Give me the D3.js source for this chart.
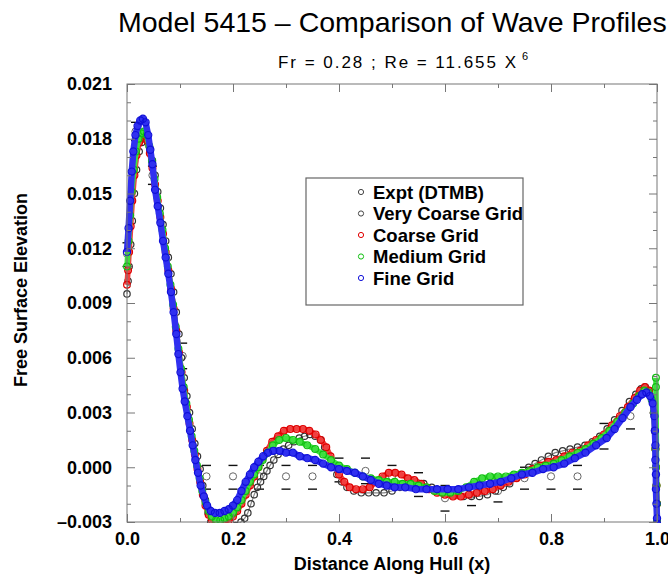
<html>
<head>
<script src="https://d3js.org/d3.v7.min.js"></script>
<title>Model 5415 - Wave Profiles</title>
<style>
  body { margin: 0; background: #fff; }
  text { font-family: "Liberation Sans", Arial, Helvetica, sans-serif; }
</style>
</head>
<body>
<div class="viz"></div>
<script type="text/javascript">
var xTicks = [0, 0.2, 0.4, 0.6, 0.8, 1.0];
var xTickLabels = ["0.0", "0.2", "0.4", "0.6", "0.8", "1.0"];
var xMinorTicks = [0.1, 0.3, 0.5, 0.7, 0.9];
var yTicks = [-0.003, 0, 0.003, 0.006, 0.009, 0.012, 0.015, 0.018, 0.021];
var yTickLabels = ["\u20130.003", "0.000", "0.003", "0.006", "0.009", "0.012", "0.015", "0.018", "0.021"];
var yMinorTicks = [-0.002, -0.001, 0.001, 0.002, 0.004, 0.005, 0.007, 0.008, 0.010, 0.011,
                   0.013, 0.014, 0.016, 0.017, 0.019, 0.020];

var seriesNames = ["Expt (DTMB)", "Very Coarse Grid", "Coarse Grid", "Medium Grid", "Fine Grid"];

// experiment: x, value, lower and upper bar
var exptX  = [0.000, 0.016, 0.048, 0.105, 0.15, 0.20, 0.25, 0.30, 0.35, 0.40, 0.45, 0.50, 0.55,
              0.60, 0.65, 0.70, 0.75, 0.80, 0.85, 0.90, 0.95];
var exptY  = [0.0117, 0.0184, 0.0160, 0.0061, -0.0005, -0.0005, -0.0005, -0.0005, -0.0005, -0.0001, -0.0002, -0.0005, -0.0009,
              -0.0017, -0.0015, -0.0013, -0.0006, -0.0005, -0.0005, 0.0017, 0.0028];
var exptLo = [0.0110, 0.0179, 0.0155, 0.0054, -0.0012, -0.0012, -0.0012, -0.0012, -0.0012, -0.0008, -0.0009, -0.0011, -0.0016,
              -0.0024, -0.0021, -0.0019, -0.0012, -0.0012, -0.0012, 0.0010, 0.0021];
var exptHi = [0.0123, 0.0189, 0.0165, 0.0068, 0.0001, 0.0001, 0.0001, 0.0001, 0.0001, 0.0005, 0.0005, 0.0001, -0.0003,
              -0.0010, -0.0009, -0.0007, 0.0000, 0.0001, 0.0001, 0.0024, 0.0035];

var veryCoarseGrid = [[0.000,0.0095],[0.002,0.0102],[0.004,0.0110],[0.007,0.0122],[0.010,0.0135],[0.014,0.0150],
  [0.018,0.0163],[0.023,0.0173],[0.028,0.0178],[0.033,0.0180],[0.038,0.0179],[0.043,0.0175],[0.048,0.0168],
  [0.053,0.0160],[0.058,0.0151],[0.063,0.0142],[0.068,0.0133],[0.073,0.0124],[0.078,0.0115],[0.083,0.0106],
  [0.088,0.0096],[0.093,0.0085],[0.098,0.0073],[0.103,0.0060],[0.108,0.0049],[0.113,0.0039],[0.118,0.0030],
  [0.123,0.0021],[0.128,0.0013],[0.133,0.0006],[0.138,-0.0001],[0.143,-0.0010],[0.148,-0.0018],[0.153,-0.0025],
  [0.158,-0.0030],[0.165,-0.0033],[0.175,-0.0035],[0.185,-0.0035],[0.195,-0.0034],[0.205,-0.0032],[0.215,-0.0030],
  [0.222,-0.0028],[0.228,-0.0025],[0.234,-0.0020],[0.240,-0.0015],[0.246,-0.0011],[0.252,-0.0008],[0.258,-0.0005],
  [0.264,-0.0002],[0.270,0.0001],[0.277,0.0004],[0.285,0.0007],[0.295,0.0010],[0.305,0.0012],[0.315,0.0014],
  [0.325,0.0016],[0.335,0.0017],[0.345,0.0018],[0.355,0.0017],[0.365,0.0015],[0.373,0.0011],[0.380,0.0006],
  [0.388,0.0001],[0.396,-0.0004],[0.405,-0.0008],[0.415,-0.0011],[0.428,-0.0013],[0.442,-0.0014],[0.456,-0.0014],
  [0.470,-0.0014],[0.485,-0.0014],[0.500,-0.0013],[0.515,-0.0011],[0.530,-0.0009],[0.545,-0.0008],[0.560,-0.0009],
  [0.575,-0.0011],[0.590,-0.0013],[0.605,-0.0014],[0.620,-0.0015],[0.635,-0.0016],[0.650,-0.0016],[0.665,-0.0016],
  [0.680,-0.0015],[0.695,-0.0013],[0.710,-0.0011],[0.722,-0.0009],[0.734,-0.0006],[0.746,-0.0003],[0.758,0.0000],
  [0.770,0.0002],[0.782,0.0004],[0.795,0.0006],[0.808,0.0008],[0.822,0.0009],[0.836,0.0010],[0.850,0.0011],
  [0.864,0.0012],[0.878,0.0014],[0.892,0.0017],[0.906,0.0021],[0.920,0.0026],[0.934,0.0031],[0.948,0.0036],
  [0.960,0.0040],[0.970,0.0043],[0.978,0.0044],[0.985,0.0042],[0.990,0.0038],[0.994,0.0030],[0.996,0.0020],
  [0.997,0.0010],[0.998,0.0000],[0.999,-0.0010],[1.000,-0.0020],[1.000,-0.0030]];

var coarseGrid = [[0.000,0.0100],[0.002,0.0108],[0.004,0.0118],[0.007,0.0132],[0.010,0.0146],[0.014,0.0160],
  [0.018,0.0171],[0.023,0.0178],[0.028,0.0181],[0.033,0.0182],[0.038,0.0179],[0.043,0.0172],[0.048,0.0164],
  [0.053,0.0155],[0.058,0.0146],[0.063,0.0137],[0.068,0.0128],[0.073,0.0118],[0.078,0.0108],[0.083,0.0098],
  [0.088,0.0087],[0.093,0.0075],[0.098,0.0063],[0.103,0.0052],[0.108,0.0042],[0.113,0.0033],[0.118,0.0024],
  [0.123,0.0015],[0.128,0.0007],[0.133,-0.0001],[0.138,-0.0008],[0.143,-0.0015],[0.148,-0.0021],[0.154,-0.0026],
  [0.160,-0.0029],[0.168,-0.0031],[0.176,-0.0031],[0.184,-0.0030],[0.192,-0.0029],[0.200,-0.0027],[0.208,-0.0024],
  [0.216,-0.0020],[0.224,-0.0015],[0.232,-0.0010],[0.240,-0.0005],[0.248,0.0000],[0.256,0.0005],[0.264,0.0009],
  [0.274,0.0014],[0.285,0.0017],[0.296,0.0020],[0.308,0.0021],[0.320,0.0021],[0.332,0.0021],[0.344,0.0020],
  [0.356,0.0018],[0.366,0.0015],[0.376,0.0011],[0.384,0.0006],[0.392,0.0001],[0.400,-0.0004],[0.410,-0.0008],
  [0.420,-0.0011],[0.432,-0.0012],[0.445,-0.0012],[0.458,-0.0011],[0.470,-0.0008],[0.482,-0.0005],[0.494,-0.0003],
  [0.506,-0.0003],[0.518,-0.0004],[0.530,-0.0006],[0.542,-0.0007],[0.555,-0.0009],[0.570,-0.0012],[0.585,-0.0014],
  [0.600,-0.0015],[0.615,-0.0016],[0.630,-0.0016],[0.645,-0.0015],[0.660,-0.0014],[0.675,-0.0013],[0.690,-0.0012],
  [0.705,-0.0010],[0.720,-0.0008],[0.735,-0.0006],[0.750,-0.0004],[0.765,-0.0001],[0.780,0.0001],[0.795,0.0003],
  [0.810,0.0004],[0.825,0.0006],[0.840,0.0008],[0.855,0.0009],[0.870,0.0012],[0.885,0.0015],[0.900,0.0018],
  [0.915,0.0023],[0.930,0.0028],[0.945,0.0033],[0.958,0.0038],[0.968,0.0042],[0.977,0.0044],[0.985,0.0042],
  [0.990,0.0038],[0.994,0.0030],[0.996,0.0020],[0.997,0.0010],[0.998,0.0000],[0.999,-0.0010],[1.000,-0.0020],
  [1.000,-0.0030]];

var mediumGrid = [[0.000,0.0110],[0.003,0.0124],[0.006,0.0138],[0.009,0.0151],[0.013,0.0163],[0.017,0.0173],
  [0.022,0.0180],[0.027,0.0183],[0.032,0.0184],[0.037,0.0182],[0.042,0.0176],[0.047,0.0168],[0.052,0.0158],
  [0.057,0.0148],[0.062,0.0139],[0.067,0.0130],[0.072,0.0120],[0.077,0.0110],[0.082,0.0100],[0.087,0.0089],
  [0.092,0.0077],[0.097,0.0065],[0.102,0.0054],[0.107,0.0044],[0.112,0.0035],[0.117,0.0026],[0.122,0.0017],
  [0.127,0.0009],[0.132,0.0001],[0.137,-0.0006],[0.142,-0.0013],[0.148,-0.0019],[0.154,-0.0024],[0.160,-0.0027],
  [0.168,-0.0029],[0.176,-0.0029],[0.184,-0.0028],[0.192,-0.0027],[0.200,-0.0025],[0.208,-0.0022],[0.216,-0.0018],
  [0.224,-0.0013],[0.232,-0.0008],[0.240,-0.0004],[0.248,0.0000],[0.256,0.0004],[0.265,0.0008],[0.275,0.0012],
  [0.287,0.0015],[0.300,0.0016],[0.313,0.0015],[0.326,0.0014],[0.340,0.0012],[0.355,0.0010],[0.370,0.0007],
  [0.385,0.0004],[0.400,0.0001],[0.415,-0.0001],[0.430,-0.0003],[0.445,-0.0005],[0.460,-0.0006],[0.475,-0.0007],
  [0.490,-0.0008],[0.505,-0.0008],[0.520,-0.0009],[0.535,-0.0009],[0.550,-0.0010],[0.565,-0.0011],[0.580,-0.0013],
  [0.595,-0.0014],[0.610,-0.0014],[0.625,-0.0013],[0.640,-0.0011],[0.655,-0.0008],[0.670,-0.0006],[0.685,-0.0005],
  [0.700,-0.0005],[0.715,-0.0005],[0.730,-0.0004],[0.745,-0.0003],[0.760,-0.0002],[0.775,0.0000],[0.790,0.0001],
  [0.805,0.0002],[0.820,0.0004],[0.835,0.0006],[0.850,0.0008],[0.865,0.0010],[0.880,0.0013],[0.895,0.0016],
  [0.910,0.0020],[0.925,0.0025],[0.940,0.0030],[0.955,0.0035],[0.966,0.0039],[0.976,0.0042],[0.984,0.0041],
  [0.990,0.0037],[0.994,0.0030],[0.996,0.0020],[0.997,0.0010],[0.998,0.0000],[0.999,-0.0010],[1.000,-0.0020],
  [1.000,-0.0029],[0.998,0.0044],[0.998,0.0049]];

var fineGrid = [[0.000,0.0118],[0.003,0.0131],[0.006,0.0146],[0.009,0.0162],[0.012,0.0173],[0.016,0.0182],
  [0.020,0.0187],[0.025,0.0190],[0.030,0.0191],[0.035,0.0189],[0.040,0.0182],[0.044,0.0174],[0.048,0.0166],
  [0.053,0.0152],[0.058,0.0143],[0.063,0.0134],[0.068,0.0124],[0.073,0.0115],[0.078,0.0106],[0.083,0.0096],
  [0.088,0.0085],[0.093,0.0073],[0.097,0.0062],[0.101,0.0052],[0.105,0.0043],[0.109,0.0036],[0.114,0.0028],
  [0.119,0.0020],[0.124,0.0012],[0.129,0.0004],[0.134,-0.0003],[0.139,-0.0010],[0.145,-0.0016],[0.151,-0.0021],
  [0.158,-0.0024],[0.166,-0.0025],[0.175,-0.0025],[0.184,-0.0024],[0.192,-0.0023],[0.200,-0.0021],[0.208,-0.0018],
  [0.216,-0.0013],[0.224,-0.0008],[0.232,-0.0004],[0.240,0.0000],[0.248,0.0003],[0.257,0.0006],[0.266,0.0008],
  [0.276,0.0009],[0.288,0.0009],[0.300,0.0008],[0.313,0.0008],[0.326,0.0006],[0.340,0.0005],[0.355,0.0004],
  [0.370,0.0002],[0.385,0.0000],[0.400,-0.0001],[0.415,-0.0002],[0.430,-0.0003],[0.445,-0.0005],[0.460,-0.0007],
  [0.475,-0.0009],[0.490,-0.0010],[0.505,-0.0011],[0.525,-0.0011],[0.545,-0.0012],[0.565,-0.0012],[0.585,-0.0012],
  [0.605,-0.0012],[0.625,-0.0012],[0.645,-0.0011],[0.665,-0.0010],[0.685,-0.0009],[0.705,-0.0008],[0.725,-0.0006],
  [0.745,-0.0004],[0.765,-0.0003],[0.785,-0.0001],[0.805,0.0000],[0.825,0.0002],[0.845,0.0005],[0.865,0.0008],
  [0.885,0.0012],[0.905,0.0016],[0.920,0.0021],[0.935,0.0027],[0.950,0.0033],[0.962,0.0037],[0.972,0.0040],
  [0.980,0.0041],[0.987,0.0039],[0.992,0.0035],[0.995,0.0028],[0.996,0.0020],[0.997,0.0012],[0.997,0.0004],
  [0.998,-0.0004],[0.998,-0.0012],[0.999,-0.0020],[1.000,-0.0028],[1.000,-0.0031]];

var vizWidth = 668;
var vizHeight = 575;

var x = d3.scaleLinear().domain([0, 1]).range([127, 657]);
var y = d3.scaleLinear().domain([-0.003, 0.021]).range([522, 84]);

var svg = d3.select("div.viz")
            .append("svg")
            .attr("width", vizWidth)
            .attr("height", vizHeight);

svg.append("rect").attr("width", vizWidth).attr("height", vizHeight).attr("fill", "#fff");

// titles
svg.append("text")
   .attr("x", 118).attr("y", 32)
   .attr("font-size", 28.5)
   .text("Model 5415 \u2013 Comparison of Wave Profiles");

svg.append("text")
   .attr("x", 278).attr("y", 68)
   .attr("font-size", 17)
   .attr("textLength", 238)
   .attr("lengthAdjust", "spacing")
   .text("Fr = 0.28 ; Re = 11.655 X");
svg.append("text")
   .attr("x", 522).attr("y", 60)
   .attr("font-size", 11)
   .text("6");

// clip for the data
svg.append("clipPath").attr("id", "plotClip")
   .append("rect")
   .attr("x", x(0) - 6).attr("y", y(0.021))
   .attr("width", x(1) - x(0) + 12).attr("height", y(-0.003) - y(0.021) + 1);

var plot = svg.append("g").attr("clip-path", "url(#plotClip)");

// experiment: dashes for the bars and open circles
var expt = exptX.map(function(d, i) { return {x: d, y: exptY[i], lo: exptLo[i], hi: exptHi[i]}; });

plot.selectAll("circle.expt")
    .data(expt)
    .enter()
    .append("circle")
    .attr("class", "expt")
    .attr("cx", function(d) { return x(d.x); })
    .attr("cy", function(d) { return y(d.y); })
    .attr("r", 3.6)
    .attr("fill", "none")
    .attr("stroke", "#666")
    .attr("stroke-width", 1);

plot.selectAll("line.hi")
    .data(expt)
    .enter()
    .append("line")
    .attr("x1", function(d) { return x(d.x) - 4.5; })
    .attr("x2", function(d) { return x(d.x) + 4.5; })
    .attr("y1", function(d) { return y(d.hi); })
    .attr("y2", function(d) { return y(d.hi); })
    .attr("stroke", "#111").attr("stroke-width", 1.4);

plot.selectAll("line.lo")
    .data(expt)
    .enter()
    .append("line")
    .attr("x1", function(d) { return x(d.x) - 4.5; })
    .attr("x2", function(d) { return x(d.x) + 4.5; })
    .attr("y1", function(d) { return y(d.lo); })
    .attr("y2", function(d) { return y(d.lo); })
    .attr("stroke", "#111").attr("stroke-width", 1.4);

// computed profiles
var series = [
  {data: veryCoarseGrid, line: "#888", lineWidth: 1.2, color: "#333", r: 3.2},
  {data: coarseGrid, line: "#f04040", lineWidth: 5.5, color: "#e00000", r: 3.4},
  {data: mediumGrid, line: "#40e040", lineWidth: 5.5, color: "#10c010", r: 3.4},
  {data: fineGrid, line: "#3030f0", lineWidth: 6.5, color: "#1010d8", r: 3.6}
];

var line = d3.line()
             .x(function(d) { return x(d[0]); })
             .y(function(d) { return y(d[1]); });

series.forEach(function(s) {
    plot.append("path")
        .datum(s.data)
        .attr("d", line)
        .attr("fill", "none")
        .attr("stroke", s.line)
        .attr("stroke-width", s.lineWidth)
        .attr("stroke-linejoin", "round");

    plot.append("g")
        .selectAll("circle")
        .data(s.data)
        .enter()
        .append("circle")
        .attr("cx", function(d) { return x(d[0]); })
        .attr("cy", function(d) { return y(d[1]); })
        .attr("r", s.r)
        .attr("fill", "none")
        .attr("stroke", s.color)
        .attr("stroke-width", 1.2);
});

// axes
function styleAxis(g) {
    g.select(".domain").remove();
    g.selectAll(".tick line").attr("stroke", "#777");
    g.selectAll("text").attr("font-size", 18).attr("font-weight", "bold")
     .attr("fill", "#000").attr("font-family", "Liberation Sans, Arial, sans-serif");
}

svg.append("g")
   .attr("transform", "translate(0," + y(-0.003) + ")")
   .call(d3.axisBottom(x).tickValues(xTicks).tickSize(-8).tickPadding(10)
         .tickFormat(function(d, i) { return xTickLabels[i]; }))
   .call(styleAxis);
svg.append("g")
   .attr("transform", "translate(0," + y(-0.003) + ")")
   .call(d3.axisBottom(x).tickValues(xMinorTicks).tickSize(-4).tickFormat(""))
   .call(styleAxis);
svg.append("g")
   .attr("transform", "translate(0," + y(0.021) + ")")
   .call(d3.axisTop(x).tickValues(xTicks).tickSize(-8).tickFormat(""))
   .call(styleAxis);
svg.append("g")
   .attr("transform", "translate(0," + y(0.021) + ")")
   .call(d3.axisTop(x).tickValues(xMinorTicks).tickSize(-4).tickFormat(""))
   .call(styleAxis);

svg.append("g")
   .attr("transform", "translate(" + x(0) + ",0)")
   .call(d3.axisLeft(y).tickValues(yTicks).tickSize(-8).tickPadding(15)
         .tickFormat(function(d, i) { return yTickLabels[i]; }))
   .call(styleAxis);
svg.append("g")
   .attr("transform", "translate(" + x(0) + ",0)")
   .call(d3.axisLeft(y).tickValues(yMinorTicks).tickSize(-4).tickFormat(""))
   .call(styleAxis);
svg.append("g")
   .attr("transform", "translate(" + x(1) + ",0)")
   .call(d3.axisRight(y).tickValues(yTicks).tickSize(-8).tickFormat(""))
   .call(styleAxis);
svg.append("g")
   .attr("transform", "translate(" + x(1) + ",0)")
   .call(d3.axisRight(y).tickValues(yMinorTicks).tickSize(-4).tickFormat(""))
   .call(styleAxis);

// frame
svg.append("rect")
   .attr("x", x(0)).attr("y", y(0.021))
   .attr("width", x(1) - x(0)).attr("height", y(-0.003) - y(0.021))
   .attr("fill", "none").attr("stroke", "#777").attr("stroke-width", 1);

// axis titles
svg.append("text")
   .attr("x", (x(0) + x(1)) / 2).attr("y", 570)
   .attr("text-anchor", "middle")
   .attr("font-size", 18).attr("font-weight", "bold")
   .text("Distance Along Hull (x)");
svg.append("text")
   .attr("transform", "translate(27,290) rotate(-90)")
   .attr("text-anchor", "middle")
   .attr("font-size", 18).attr("font-weight", "bold")
   .text("Free Surface Elevation");

// legend
var legendColors = ["#444", "#444", "#e00000", "#10c010", "#1010d8"];
var legend = svg.append("g");
legend.append("rect")
      .attr("x", 306).attr("y", 178).attr("width", 217).attr("height", 127)
      .attr("fill", "#fff").attr("stroke", "#666").attr("stroke-width", 1.2);

var rows = legend.selectAll("g.row")
      .data(seriesNames)
      .enter()
      .append("g")
      .attr("transform", function(d, i) { return "translate(361," + (192 + i * 21.5) + ")"; });
rows.append("circle")
    .attr("r", 2.6)
    .attr("fill", "none")
    .attr("stroke", function(d, i) { return legendColors[i]; })
    .attr("stroke-width", 1);
rows.append("text")
    .attr("x", 12).attr("y", 6.5)
    .attr("font-size", 18.5).attr("font-weight", "bold")
    .text(function(d) { return d; });
</script>
</body>
</html>
